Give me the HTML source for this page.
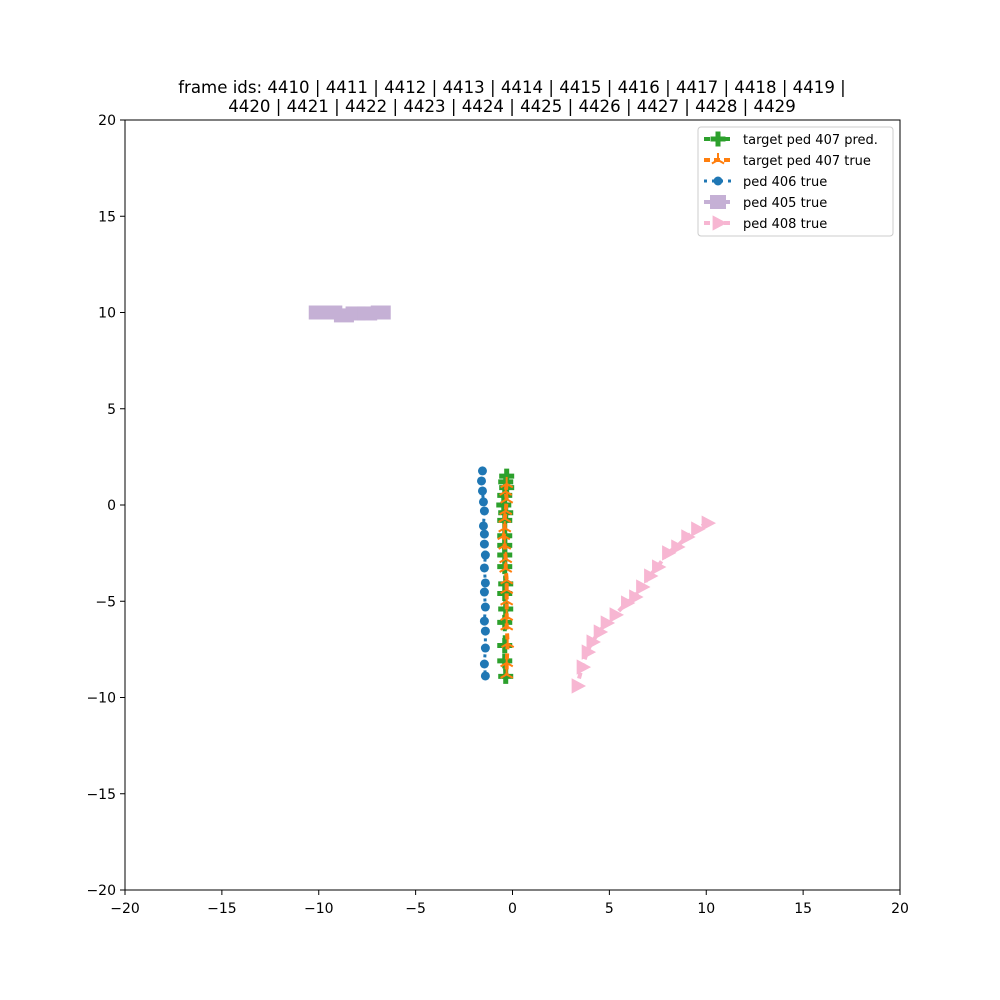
<!DOCTYPE html>
<html><head><meta charset="utf-8"><style>
body{margin:0;background:#fff;}
svg{display:block;font-family:"DejaVu Sans","Liberation Sans",sans-serif;}
</style></head><body>
<svg id="chart" width="1000" height="1000">
<rect x="0" y="0" width="1000" height="1000" fill="#fff"/>
<text x="512" y="93" font-size="16.6" text-anchor="middle">frame ids: 4410 | 4411 | 4412 | 4413 | 4414 | 4415 | 4416 | 4417 | 4418 | 4419 |</text>
<text x="512" y="112" font-size="16.6" text-anchor="middle">4420 | 4421 | 4422 | 4423 | 4424 | 4425 | 4426 | 4427 | 4428 | 4429</text>
<g id="plot"></g>
<rect x="125" y="120" width="775" height="770" fill="none" stroke="#000" stroke-width="1"/>
<g id="legend"></g>
</svg>
<script>
const xTicks=[-20,-15,-10,-5,0,5,10,15,20];
const yTicks=[-20,-15,-10,-5,0,5,10,15,20];
const predX=[-0.3,-0.35,-0.3,-0.4,-0.45,-0.35,-0.4,-0.4,-0.4,-0.4,-0.4,-0.35,-0.4,-0.35,-0.4,-0.4,-0.4,-0.35];
const predY=[1.5,1.2,0.9,0.5,0,-0.4,-0.8,-1.6,-2.1,-2.6,-3.2,-4.1,-4.6,-5.4,-6.1,-7.3,-8.1,-8.9];
const trueX=[-0.3,-0.35,-0.3,-0.35,-0.4,-0.4,-0.45,-0.4,-0.35,-0.35,-0.3,-0.3,-0.3,-0.3,-0.3,-0.25,-0.3,-0.3];
const trueY=[1.1,0.7,0.3,-0.3,-0.7,-1.2,-1.6,-2.1,-2.8,-3.3,-3.9,-4.4,-5.0,-5.8,-6.3,-7.2,-8.2,-8.8];
const p406X=[-1.55,-1.6,-1.55,-1.5,-1.45,-1.5,-1.45,-1.45,-1.4,-1.45,-1.4,-1.45,-1.4,-1.45,-1.4,-1.4,-1.45,-1.4];
const p406Y=[1.77,1.25,0.73,0.16,-0.31,-1.09,-1.51,-2.03,-2.6,-3.27,-4.05,-4.52,-5.3,-6.03,-6.55,-7.43,-8.26,-8.88];
const p405X=[-10.0,-9.3,-8.7,-8.1,-7.5,-6.8];
const p405Y=[10.0,10.0,9.85,9.95,9.95,10.0];
const p408X=[10.04,9.5,8.99,8.47,8.0,7.48,7.07,6.66,6.3,5.88,5.29,4.83,4.47,4.1,3.85,3.59,3.33];
const p408Y=[-0.94,-1.25,-1.66,-2.18,-2.49,-3.22,-3.69,-4.26,-4.78,-5.09,-5.71,-6.13,-6.6,-7.12,-7.64,-8.42,-9.4];

const NS="http://www.w3.org/2000/svg";
const sx=v=>125+(v+20)/40*775;
const sy=v=>890-(v+20)/40*770;
const svg=document.getElementById('chart');
const plot=document.getElementById('plot');
function mk(tag,attrs,parent){const e=document.createElementNS(NS,tag);for(const k in attrs)e.setAttribute(k,attrs[k]);(parent||plot).appendChild(e);return e;}

xTicks.forEach(t=>{
  const l=mk('line',{x1:sx(t),x2:sx(t),y1:890,y2:895,stroke:'#000'},svg);
  
  
  const tx=mk('text',{x:sx(t),y:913,'font-size':14,'text-anchor':'middle'},svg);
  tx.textContent=t<0?'\u2212'+(-t):t;
  
  
});
yTicks.forEach(t=>{
  const l=mk('line',{x1:120,x2:125,y1:sy(t),y2:sy(t),stroke:'#000'},svg);
  
  
  const tx=mk('text',{x:116,y:sy(t)+5,'font-size':14,'text-anchor':'end'},svg);
  tx.textContent=t<0?'\u2212'+(-t):t;
  
  
});

function plus(cx,cy,s,c,g){mk('path',{d:`M${cx-s} ${cy-s/3}h${s*2/3}v${-s*2/3}h${s*2/3}v${s*2/3}h${s*2/3}v${s*2/3}h${-s*2/3}v${s*2/3}h${-s*2/3}v${-s*2/3}h${-s*2/3}z`,fill:c},g);}
function tri(cx,cy,s,c,g){mk('path',{d:`M${cx+s} ${cy}L${cx-s*0.6} ${cy-s*0.85}L${cx-s*0.6} ${cy+s*0.85}z`,fill:c},g);}
function tri1(cx,cy,s,c,g){mk('path',{d:`M${cx} ${cy}v${-s}M${cx} ${cy}l${-s*0.87} ${s*0.5}M${cx} ${cy}l${s*0.87} ${s*0.5}`,stroke:c,'stroke-width':2,fill:'none'},g);}

let g=mk('g',{});
mk('polyline',{points:p405X.map((x,i)=>sx(x)+','+sy(p405Y[i])).join(' '),fill:'none',stroke:'#c5b0d5','stroke-width':4,'stroke-dasharray':'6 4'},g);
p405X.forEach((x,i)=>mk('rect',{x:sx(x)-10,y:sy(p405Y[i])-7,width:20,height:14,fill:'#c5b0d5'},g));
g=mk('g',{});
mk('polyline',{points:p406X.map((x,i)=>sx(x)+','+sy(p406Y[i])).join(' '),fill:'none',stroke:'#1f77b4','stroke-width':3,'stroke-dasharray':'3 5'},g);
p406X.forEach((x,i)=>mk('circle',{cx:sx(x),cy:sy(p406Y[i]),r:4.5,fill:'#1f77b4'},g));
g=mk('g',{});
mk('polyline',{points:p408X.map((x,i)=>sx(x)+','+sy(p408Y[i])).join(' '),fill:'none',stroke:'#f7b6d2','stroke-width':4,'stroke-dasharray':'6 4'},g);
p408X.forEach((x,i)=>tri(sx(x),sy(p408Y[i]),9,'#f7b6d2',g));
g=mk('g',{});
mk('polyline',{points:predX.map((x,i)=>sx(x)+','+sy(predY[i])).join(' '),fill:'none',stroke:'#2ca02c','stroke-width':4,'stroke-dasharray':'6 4'},g);
predX.forEach((x,i)=>plus(sx(x),sy(predY[i]),7.5,'#2ca02c',g));
g=mk('g',{});
mk('polyline',{points:trueX.map((x,i)=>sx(x)+','+sy(trueY[i])).join(' '),fill:'none',stroke:'#ff7f0e','stroke-width':4,'stroke-dasharray':'6 4'},g);
trueX.forEach((x,i)=>tri1(sx(x),sy(trueY[i]),7,'#ff7f0e',g));

const lg=document.getElementById('legend');
mk('rect',{x:698,y:127,width:195,height:109,rx:3,fill:'#fff',stroke:'#ccc'},lg);
const items=[['target ped 407 pred.','#2ca02c','plus'],['target ped 407 true','#ff7f0e','tri1'],['ped 406 true','#1f77b4','circle'],['ped 405 true','#c5b0d5','rect'],['ped 408 true','#f7b6d2','tri']];
items.forEach((it,i)=>{
  const y=139+i*21;
  const e=mk('g',{},lg);
  
  
  mk('line',{x1:704,x2:732,y1:y,y2:y,stroke:it[1],'stroke-width':it[2]==='circle'?3:4,'stroke-dasharray':it[2]==='circle'?'3 5':'6 4'},e);
  const cx=718;
  if(it[2]==='plus')plus(cx,y,7.5,it[1],e);
  if(it[2]==='tri1')tri1(cx,y,7,it[1],e);
  if(it[2]==='circle')mk('circle',{cx:cx,cy:y,r:4.5,fill:it[1]},e);
  if(it[2]==='rect')mk('rect',{x:cx-8,y:y-7,width:16,height:14,fill:it[1]},e);
  if(it[2]==='tri')tri(cx,y,9,it[1],e);
  const t=mk('text',{x:743,y:y+5,'font-size':13},e);t.textContent=it[0];
});
</script>
</body></html>
